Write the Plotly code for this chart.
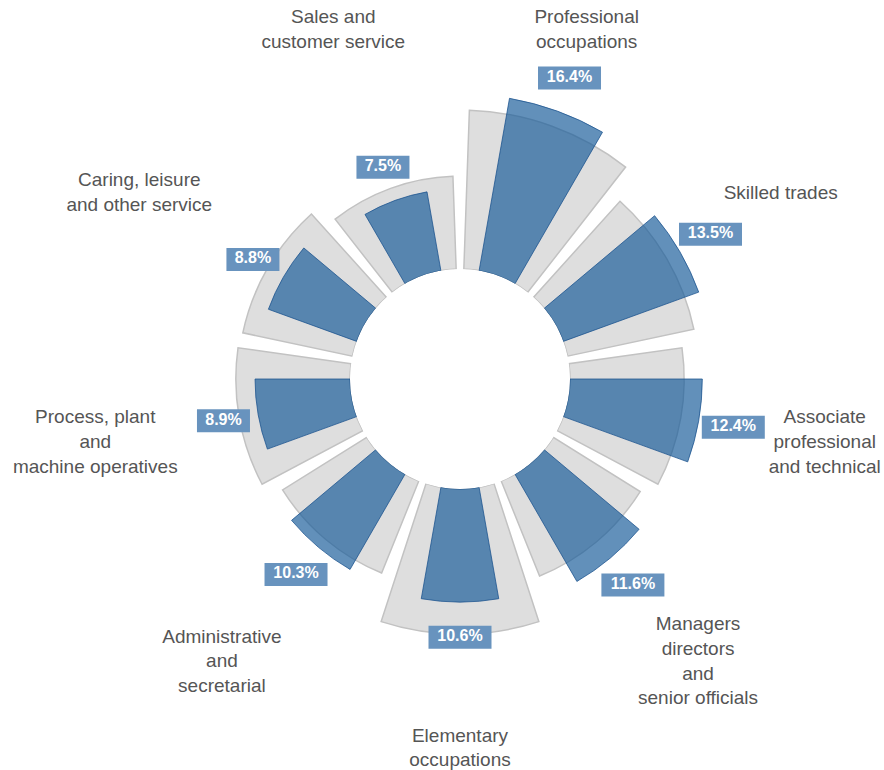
import plotly.graph_objects as go

# ---- data ----
categories = [
    "Professional occupations",
    "Skilled trades",
    "Associate professional and technical",
    "Managers directors and senior officials",
    "Elementary occupations",
    "Administrative and secretarial",
    "Process, plant and machine operatives",
    "Caring, leisure and other service",
    "Sales and customer service",
]
category_labels = [
    "Professional<br>occupations",
    "Skilled trades",
    "Associate<br>professional<br>and technical",
    "Managers<br>directors<br>and<br>senior officials",
    "Elementary<br>occupations",
    "Administrative<br>and<br>secretarial",
    "Process, plant<br>and<br>machine operatives",
    "Caring, leisure<br>and other service",
    "Sales and<br>customer service",
]
share_values = [16.4, 13.5, 12.4, 11.6, 10.6, 10.3, 8.9, 8.8, 7.5]
background_values = [14.9, 12.1, 10.7, 9.6, 13.6, 9.3, 10.7, 10.5, 8.7]

# ---- geometry / style ----
W, H = 884, 770
CX, CY = 460, 379          # centre in figure pixels (from top-left)
HOLE_PX = 110
PX_PER_UNIT = 10.67
RMAX = 25.0
R = HOLE_PX + RMAX * PX_PER_UNIT
LABEL_R = 24.4
DL_OFFSET = 3.3
BOX_H = 23

BLUE = "rgba(24,92,153,0.68)"
BLUE_LINE = "rgba(24,80,140,0.75)"
BOX = "#6893be"

fig = go.Figure()

fig.add_trace(go.Barpolar(
    r=background_values, theta=categories, width=0.9,
    marker=dict(color="#dedede", line=dict(color="#c2c2c2", width=1.5)),
    hoverinfo="skip", showlegend=False,
))
fig.add_trace(go.Barpolar(
    r=share_values, theta=categories, width=0.5,
    marker=dict(color=BLUE, line=dict(color=BLUE_LINE, width=1)),
    showlegend=False,
))

# data labels (box + text)
dl_text = [f"{v:.1f}%" for v in share_values]
dl_r = [v + DL_OFFSET for v in share_values]
box_size = [(10 * len(t) + 13) / 1.4 for t in dl_text]   # line-ew length = 1.4 * size
fig.add_trace(go.Scatterpolar(
    r=dl_r, theta=categories, mode="markers",
    marker=dict(symbol="line-ew", size=box_size, color=BOX, opacity=1,
                line=dict(color=BOX, width=BOX_H)),
    hoverinfo="skip", showlegend=False, cliponaxis=False,
))
fig.add_trace(go.Scatterpolar(
    r=dl_r, theta=categories, mode="text", text=dl_text,
    textposition="middle center",
    textfont=dict(family="Liberation Sans, Arial", size=16, color="white", weight="bold"),
    hoverinfo="skip", showlegend=False, cliponaxis=False,
))

# category labels
fig.add_trace(go.Scatterpolar(
    r=[LABEL_R] * len(categories), theta=categories, mode="text",
    text=category_labels, textposition="middle center",
    textfont=dict(family="Liberation Sans, Arial", size=19, color="#555555"),
    hoverinfo="skip", showlegend=False, cliponaxis=False,
))

fig.update_layout(
    width=W, height=H,
    margin=dict(l=0, r=0, t=0, b=0),
    paper_bgcolor="white",
    polar=dict(
        domain=dict(x=[(CX - R) / W, (CX + R) / W],
                    y=[(H - CY - R) / H, (H - CY + R) / H]),
        hole=HOLE_PX / R,
        bgcolor="white",
        barmode="overlay",
        radialaxis=dict(range=[0, RMAX], visible=False),
        angularaxis=dict(type="category", rotation=70, direction="clockwise",
                         showticklabels=False, showgrid=False, showline=False,
                         ticks=""),
    ),
)

fig.write_html("out.html",
               config={"displayModeBar": False},
               post_script="document.body.style.margin='0';document.body.style.overflow='hidden';")
